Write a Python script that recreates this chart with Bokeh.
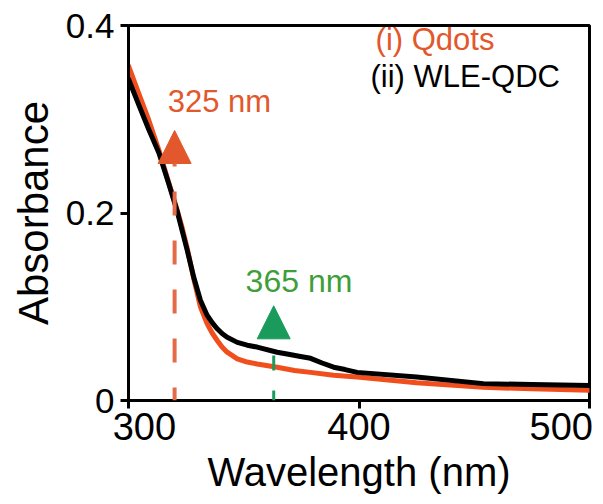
from bokeh.plotting import figure
from bokeh.models import Arrow, NormalHead, Label, FixedTicker, Range1d
from bokeh.embed import file_html
from bokeh.resources import INLINE

# ---- data ----
wavelength_qdots = [300, 304.5, 308.8, 313.2, 317.5, 321, 323.3, 325.5, 328.3, 331.2, 334.1,
                    336.3, 338.5, 340.6, 342.8, 347.2, 351.5, 355.8, 364.5, 372, 379, 389,
                    399.2, 425, 454, 475, 500]
absorbance_qdots = [0.357, 0.327, 0.299, 0.267, 0.232, 0.204, 0.184, 0.162, 0.130, 0.100,
                    0.082, 0.072, 0.064, 0.057, 0.0515, 0.0445, 0.041, 0.039, 0.0355, 0.032,
                    0.030, 0.027, 0.025, 0.019, 0.014, 0.0125, 0.011]

wavelength_wle = [300, 304.5, 308.8, 313.2, 317.5, 321, 323.3, 325.5, 328.3, 331.2, 334.1,
                  336.3, 338.5, 340.6, 342.8, 347.2, 351.5, 355.8, 364.5, 370, 374.6, 379,
                  384, 389, 394, 399.2, 425, 454, 475, 500]
absorbance_wle = [0.343, 0.315, 0.289, 0.264, 0.231, 0.203, 0.181, 0.160, 0.1315, 0.107,
                  0.091, 0.083, 0.0765, 0.0715, 0.0675, 0.062, 0.059, 0.057, 0.0515, 0.049,
                  0.047, 0.045, 0.040, 0.0355, 0.033, 0.030, 0.025, 0.018, 0.017, 0.016]

series_names = ["(i) Qdots", "(ii) WLE-QDC"]
excitation_labels = ["325 nm", "365 nm"]
excitation_x = [320, 363]          # where the arrows are drawn
excitation_tip = [0.288, 0.101]    # arrow tip heights

x_ticks = [300, 400, 500]
x_tick_labels = ["300", "400", "500"]
y_ticks = [0, 0.2, 0.4]
y_tick_labels = ["0", "0.2", "0.4"]

ORANGE = "#F04E1C"
ORANGE_TXT = "#E2572B"
ORANGE_DASH = "#E56A48"
GREEN_TXT = "#3E9E3A"
GREEN = "#1A9B5C"
FONT = "Liberation Sans"
NB = "\u00a0"

p = figure(width=603, height=504, output_backend="svg", toolbar_location=None,
           x_range=Range1d(300, 500), y_range=Range1d(0, 0.4),
           min_border_left=128, min_border_right=14, min_border_top=25,
           min_border_bottom=104)

p.grid.visible = False
p.outline_line_color = "black"
p.outline_line_width = 3
p.background_fill_color = "white"
p.border_fill_color = "white"

for ax in (p.xaxis[0], p.yaxis[0]):
    ax.axis_line_width = 3
    ax.axis_line_color = "black"
    ax.major_tick_line_width = 3
    ax.major_tick_out = 8
    ax.major_tick_in = 0
    ax.minor_tick_out = 0
    ax.minor_tick_in = 0
    ax.major_label_text_font = FONT
    ax.major_label_text_color = "black"
    ax.axis_label_text_font = FONT
    ax.axis_label_text_font_style = "normal"
    ax.axis_label_text_color = "black"

p.xaxis.ticker = FixedTicker(ticks=x_ticks)
p.yaxis.ticker = FixedTicker(ticks=y_ticks)
p.yaxis.major_label_overrides = {t: s for t, s in zip(y_ticks, y_tick_labels)}
# end labels nudged inward (as in the source) with non-breaking-space padding
p.xaxis.major_label_overrides = {
    x_ticks[0]: NB * 3 + x_tick_labels[0],
    x_ticks[1]: x_tick_labels[1],
    x_ticks[2]: x_tick_labels[2] + NB,
}
p.xaxis.major_label_text_font_size = "38px"
p.yaxis.major_label_text_font_size = "35px"
p.xaxis.axis_label = "Wavelength (nm)"
p.yaxis.axis_label = "Absorbance"
p.xaxis.axis_label_text_font_size = "40px"
p.yaxis.axis_label_text_font_size = "42px"
p.xaxis.major_label_standoff = -3
p.yaxis.major_label_standoff = 6
p.xaxis.axis_label_standoff = -1
p.yaxis.axis_label_standoff = 6

p.line(wavelength_qdots, absorbance_qdots, line_color=ORANGE, line_width=5,
       line_join="round", line_cap="round")
p.line(wavelength_wle, absorbance_wle, line_color="black", line_width=5,
       line_join="round", line_cap="round")

p.add_layout(Arrow(end=NormalHead(size=33, fill_color=ORANGE_TXT, line_color=ORANGE_TXT,
                                  line_width=1),
                   x_start=excitation_x[0], y_start=0, x_end=excitation_x[0],
                   y_end=excitation_tip[0], line_color=ORANGE_DASH, line_width=4,
                   line_dash="24 25", line_dash_offset=11))
p.add_layout(Arrow(end=NormalHead(size=33, fill_color=GREEN, line_color=GREEN, line_width=1),
                   x_start=excitation_x[1], y_start=0, x_end=excitation_x[1],
                   y_end=excitation_tip[1], line_color=GREEN, line_width=3,
                   line_dash="15 20", line_dash_offset=5))

p.add_layout(Label(x=317, y=0.307, y_offset=11, text=excitation_labels[0], text_font=FONT,
                   text_font_size="31px", text_color=ORANGE_TXT, text_baseline="alphabetic"))
p.add_layout(Label(x=350.8, y=0.115, y_offset=12, text=excitation_labels[1], text_font=FONT,
                   text_font_size="32px", text_color=GREEN_TXT, text_baseline="alphabetic"))
p.add_layout(Label(x=407.2, y=0.372, y_offset=12, text=series_names[0], text_font=FONT,
                   text_font_size="31px", text_color=ORANGE_TXT, text_baseline="alphabetic"))
p.add_layout(Label(x=405.0, y=0.334, y_offset=11, text=series_names[1], text_font=FONT,
                   text_font_size="31px", text_color="black", text_baseline="alphabetic"))

open("out.html", "w").write(file_html(p, INLINE))
